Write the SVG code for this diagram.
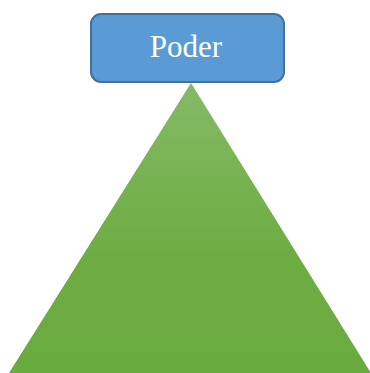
<svg xmlns="http://www.w3.org/2000/svg" width="370" height="373" viewBox="0 0 370 373">
<defs>
<linearGradient id="g" x1="0" y1="0" x2="0" y2="1">
<stop offset="0" stop-color="#84ba65"/>
<stop offset="0.6" stop-color="#6dac42"/>
<stop offset="1" stop-color="#6aab3e"/>
</linearGradient>
<style>
.box{fill:#5b9bd5;stroke:#41719c;stroke-width:2}
.lbl{font-family:"Liberation Serif",serif;font-size:31px;fill:#ffffff}
</style>
</defs>
<g id="triangle">
<polygon points="191,83 9,373 371,373" fill="url(#g)"/>
</g>
<g id="poder">
<rect class="box" x="91" y="14" width="193" height="68" rx="10"/>
<text class="lbl" x="186" y="57" text-anchor="middle">Poder</text>
</g>
<g id="connectors"/>
</svg>
